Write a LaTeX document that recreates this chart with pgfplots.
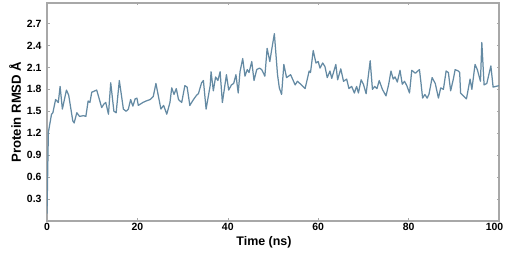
\documentclass[border=0pt]{standalone}
\usepackage{fontspec}
\setmainfont{Liberation Sans}
\usepackage{pgfplots}
\pgfplotsset{compat=1.18}
\definecolor{rmsdline}{RGB}{100,138,163}
\definecolor{axgray}{RGB}{168,168,168}
\begin{document}
\begin{tikzpicture}
\begin{axis}[
    scale only axis,
    width=452bp, height=218bp,
    xmin=0, xmax=100, ymin=0, ymax=2.98,
    xtick={0,20,40,60,80,100},
    xticklabels={0,20,40,60,80,\hspace*{-9bp}100},
    ytick={0.3,0.6,0.9,1.2,1.5,1.8,2.1,2.4,2.7},
    yticklabel style={/pgf/number format/fixed, /pgf/number format/fixed zerofill, /pgf/number format/precision=1, xshift=-2bp},
    /pgf/number format/assume math mode=true,
    ticklabel style={font=\bfseries\fontsize{10.5}{11}\selectfont},
    tick align=inside,
    major tick length=2.5bp,
    tick style={axgray, line width=0.6pt},
    axis line style={axgray, line width=1.2pt},
    xlabel={Time (ns)},
    ylabel={Protein RMSD Å},
    label style={font=\bfseries\fontsize{12.5}{13}\selectfont},
    xlabel style={yshift=1bp, xshift=-9bp},
    ylabel style={yshift=-1bp, font=\bfseries\fontsize{13.2}{14}\selectfont},
    xticklabel style={yshift=1bp},
]
\addplot[rmsdline, line width=1.25pt, line join=round] coordinates {
(0,0.1) (0.3,1.21) (1,1.46) (1.3,1.48) (1.9,1.66) (2.5,1.62) (2.9,1.84) (3.4,1.53)
(4.3,1.79) (4.8,1.72) (5.7,1.37) (6.0,1.34) (6.6,1.48) (7.2,1.43) (8.1,1.44) (8.6,1.43)
(9.1,1.64) (9.5,1.62) (9.9,1.76) (11.0,1.79) (12.1,1.55) (12.6,1.60) (13.0,1.62) (13.6,1.46)
(14.1,1.89) (14.8,1.50) (15.3,1.48) (16.0,1.92) (16.9,1.53) (17.5,1.50) (18.0,1.53) (18.5,1.66)
(19.0,1.57) (19.5,1.67) (19.9,1.68) (20.2,1.58) (21.2,1.62) (21.9,1.64) (22.8,1.66) (23.5,1.70)
(24.1,1.88) (25.2,1.53) (25.8,1.58) (26.5,1.46) (27.2,1.62) (27.6,1.82) (28.1,1.73) (28.6,1.81)
(29.1,1.66) (29.8,1.62) (30.5,1.85) (31.0,1.83) (31.6,1.58) (32.4,1.66) (33.1,1.72) (33.5,1.74)
(34.2,1.89) (34.6,1.92) (35.2,1.53) (36.1,1.85) (36.3,2.04) (36.8,1.78) (37.3,1.97) (37.8,1.92)
(38.3,2.04) (38.8,1.62) (39.7,2.00) (40.2,1.79) (40.8,1.86) (41.3,1.88) (41.8,2.00) (42.3,1.75)
(42.7,2.04) (43.3,2.22) (43.8,1.98) (44.3,2.07) (44.7,2.03) (45.3,2.18) (45.8,1.92) (46.4,2.07)
(47.0,2.09) (47.5,2.07) (48.2,1.98) (48.7,2.36) (49.3,2.18) (49.6,2.30) (50.3,2.56) (51.0,2.00)
(51.4,1.82) (51.9,1.73) (52.4,2.14) (53.0,1.96) (53.9,2.00) (54.9,1.86) (55.4,1.91) (56.3,1.86)
(57.1,1.81) (58.0,2.05) (58.3,2.03) (58.9,2.33) (59.5,2.16) (60.0,2.18) (60.4,2.09) (61.0,2.16)
(61.5,2.11) (62.0,1.96) (62.6,2.05) (63.0,1.95) (63.9,2.14) (64.3,1.93) (65.0,2.08) (65.6,1.91)
(66.3,1.94) (66.8,1.81) (67.4,1.84) (68.0,1.75) (68.5,1.84) (68.9,1.75) (69.5,1.93) (70.0,1.87)
(70.6,1.74) (71.5,2.19) (72.0,1.80) (72.5,1.84) (73.0,1.81) (73.5,1.92) (74.2,1.80) (75.0,1.71)
(75.6,1.87) (76.1,2.05) (76.6,1.94) (77.0,1.97) (77.5,1.90) (78.1,2.06) (78.6,1.87) (79.1,1.91)
(79.6,1.85) (80.2,1.75) (80.7,2.06) (81.5,2.02) (82.4,2.07) (82.7,1.91) (83.1,1.68) (83.6,1.73)
(84.1,1.68) (84.5,1.73) (85.2,1.96) (85.9,1.88) (86.6,1.68) (87.1,1.82) (87.7,1.80) (88.3,2.05)
(88.8,2.03) (89.3,1.78) (89.9,1.94) (90.3,2.07) (91.0,2.05) (91.3,2.03) (91.5,1.75) (92.3,1.70)
(92.8,1.67) (93.6,1.94) (94.0,1.80) (94.7,2.14) (95.2,2.07) (95.9,1.91) (96.2,2.44) (96.7,1.86)
(97.3,1.88) (98.2,2.12) (98.7,1.83) (99.3,1.84) (100,1.85)
};
\end{axis}
\pgfresetboundingbox
\useasboundingbox (-47bp,-38bp) rectangle (458bp,221bp);
\end{tikzpicture}
\end{document}
